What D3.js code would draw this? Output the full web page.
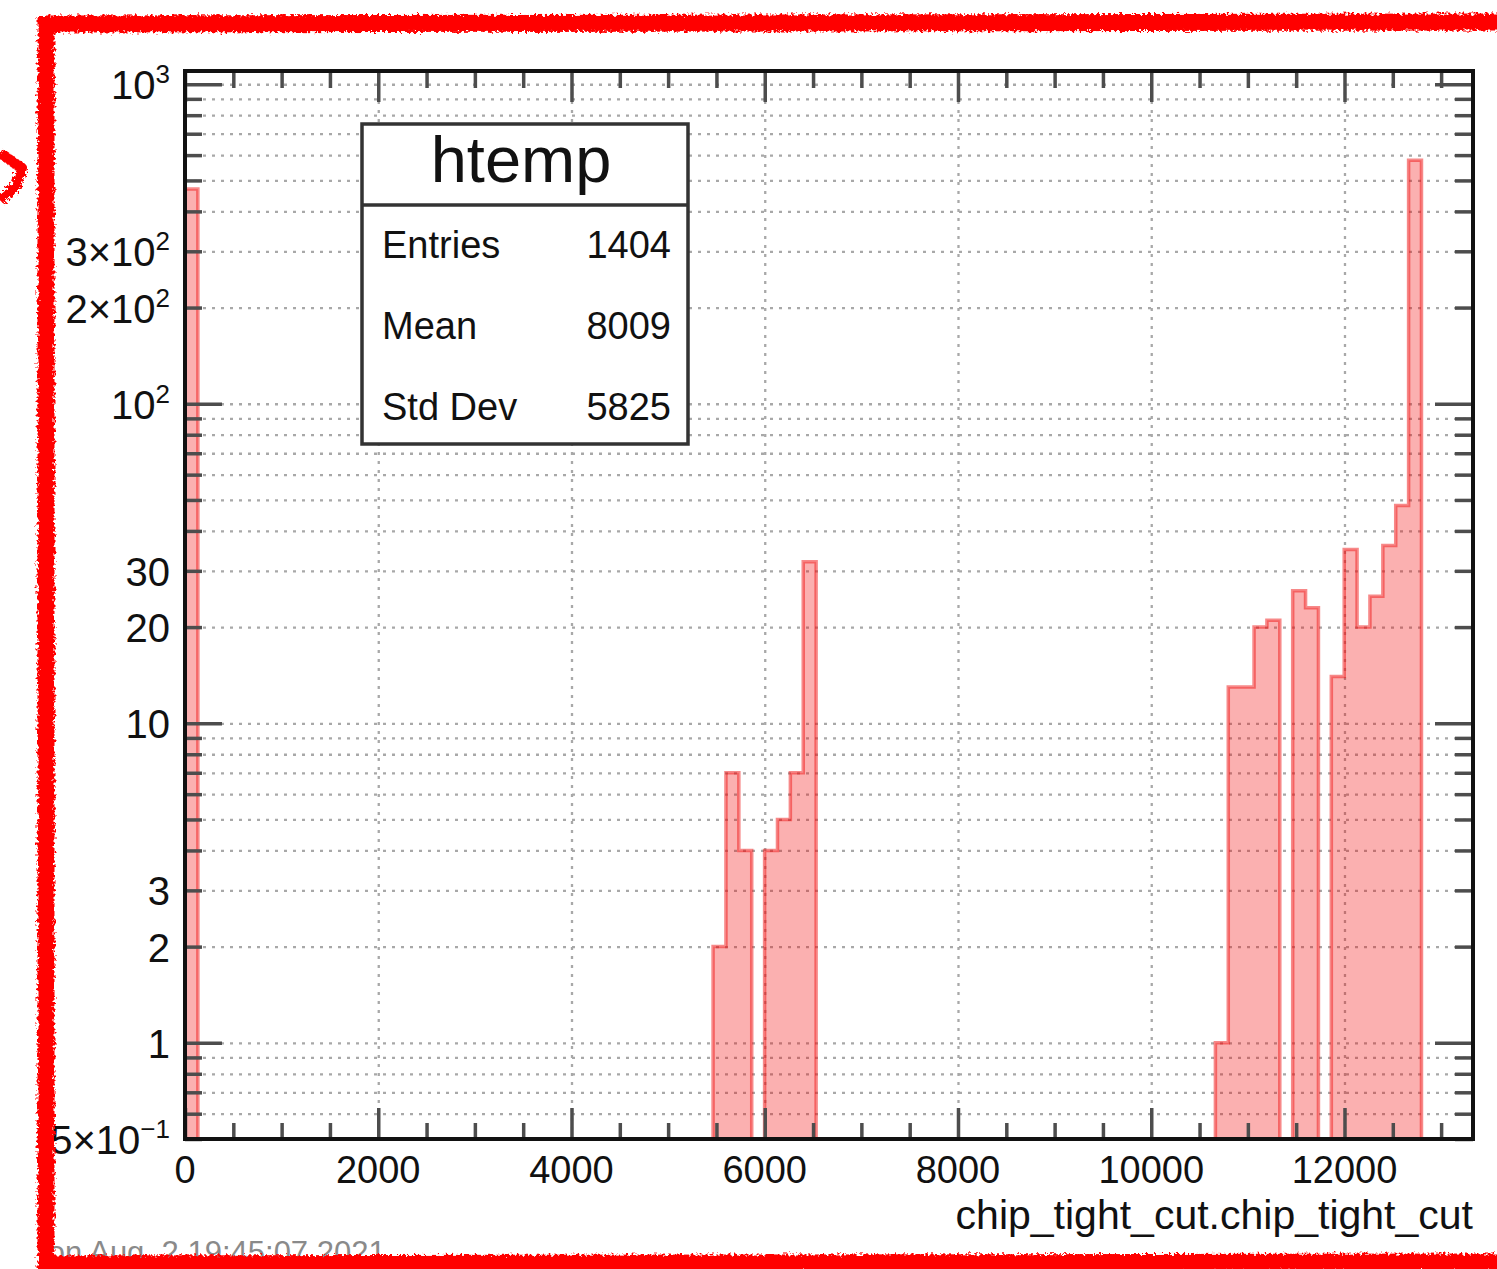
<!DOCTYPE html>
<html>
<head>
<meta charset="utf-8">
<title>htemp</title>
<script src="https://d3js.org/d3.v7.min.js"></script>
<style>
  body { margin: 0; background: #fff; }
  svg { display: block; font-family: "Liberation Sans", Arial, Helvetica, sans-serif; }
  .grid line { stroke: #a8a8a8; stroke-width: 2.3; stroke-dasharray: 3 6; }
  .grid path, .ticks path { display: none; }
  .ticks line { stroke: #4d4d4d; stroke-width: 3.5; }
</style>
</head>
<body>
<svg id="chart" width="1497" height="1269"></svg>
<script>
// histogram htemp, 100 bins between 0 and 13330
const nBins = 100;
const xLow = 0;
const xHigh = 13330;
const filledBins = [0, 41, 42, 43, 45, 46, 47, 48, 80, 81, 82, 83, 84, 86, 87, 89, 90, 91, 92, 93, 94, 95];
const binContents = [470, 2, 7, 4, 4, 5, 7, 32, 1, 13, 13, 20, 21, 26, 23, 14, 35, 20, 25, 36, 48, 578];
const xMajorTicks = [0, 2000, 4000, 6000, 8000, 10000, 12000];
const yLabelValues = [1000, 300, 200, 100, 30, 20, 10, 3, 2, 1, 0.5];
const yLabelBase = ["10", "3\u00d710", "2\u00d710", "10", "30", "20", "10", "3", "2", "1", "5\u00d710"];
const yLabelSup = ["3", "2", "2", "2", "", "", "", "", "", "", "\u22121"];
const statNames = ["Entries", "Mean", "Std Dev"];
const statValues = ["1404", "8009", "5825"];
const histName = "htemp";
const xTitle = "chip_tight_cut.chip_tight_cut";
const dateStamp = "Mon Aug  2 19:45:07 2021";

const svg = d3.select("#chart");
const margin = { left: 185, right: 1473, top: 71, bottom: 1139 };

const x = d3.scaleLinear().domain([xLow, xHigh]).range([margin.left, margin.right]);
const y = d3.scaleLog().domain([0.5, 1100]).range([margin.bottom, margin.top]);

// ticks
const yAll = y.ticks();
const yMajor = yAll.filter(function(v) { return Math.abs(Math.log10(v) - Math.round(Math.log10(v))) < 1e-9; });
const yMinor = yAll.filter(function(v) { return yMajor.indexOf(v) < 0; });
const xMinor = d3.range(500, xHigh, 500).filter(function(v) { return v % 2000 !== 0; });

// clip
svg.append("clipPath").attr("id", "frameClip")
  .append("rect")
    .attr("x", margin.left).attr("y", margin.top)
    .attr("width", margin.right - margin.left).attr("height", margin.bottom - margin.top);

// grid
svg.append("g").attr("class", "grid")
  .attr("transform", "translate(" + margin.left + ",0)")
  .call(d3.axisLeft(y).tickValues(yAll).tickSize(margin.left - margin.right).tickFormat(""));
svg.append("g").attr("class", "grid")
  .attr("transform", "translate(0," + margin.bottom + ")")
  .call(d3.axisBottom(x).tickValues(xMajorTicks.slice(1)).tickSize(margin.top - margin.bottom).tickFormat(""));

// histogram contents
const contents = new Array(nBins).fill(0);
filledBins.forEach(function(b, i) { contents[b] = binContents[i]; });
const binW = (xHigh - xLow) / nBins;
let d = "M" + x(xLow) + "," + margin.bottom;
contents.forEach(function(c, i) {
  const yy = c > 0 ? y(c) : margin.bottom;
  d += "L" + x(xLow + i * binW) + "," + yy + "L" + x(xLow + (i + 1) * binW) + "," + yy;
});
d += "L" + x(xHigh) + "," + margin.bottom;

const hist = svg.append("g").attr("clip-path", "url(#frameClip)");
hist.append("path")
  .attr("d", d + "Z")
  .attr("fill", "rgba(242,0,0,0.31)")
  .attr("stroke", "none");
hist.append("path")
  .attr("d", d)
  .attr("fill", "none")
  .attr("stroke", "rgba(240,20,20,0.5)")
  .attr("stroke-width", 3.5);

// ticks, all four sides
function tickGroup(axis, tx, ty) {
  svg.append("g").attr("class", "ticks")
    .attr("transform", "translate(" + tx + "," + ty + ")")
    .call(axis);
}
tickGroup(d3.axisLeft(y).tickValues(yMinor).tickSize(-17).tickFormat(""), margin.left, 0);
tickGroup(d3.axisLeft(y).tickValues(yMajor).tickSize(-37).tickFormat(""), margin.left, 0);
tickGroup(d3.axisRight(y).tickValues(yMinor).tickSize(-18).tickFormat(""), margin.right, 0);
tickGroup(d3.axisRight(y).tickValues(yMajor).tickSize(-38).tickFormat(""), margin.right, 0);
tickGroup(d3.axisBottom(x).tickValues(xMinor).tickSize(-16).tickFormat(""), 0, margin.bottom);
tickGroup(d3.axisBottom(x).tickValues(xMajorTicks).tickSize(-31).tickFormat(""), 0, margin.bottom);
tickGroup(d3.axisTop(x).tickValues(xMinor).tickSize(-17).tickFormat(""), 0, margin.top);
tickGroup(d3.axisTop(x).tickValues(xMajorTicks).tickSize(-31).tickFormat(""), 0, margin.top);

// frame
svg.append("rect")
  .attr("x", margin.left).attr("y", margin.top)
  .attr("width", margin.right - margin.left).attr("height", margin.bottom - margin.top)
  .attr("fill", "none").attr("stroke", "#111").attr("stroke-width", 4);

// x labels
svg.append("g").selectAll("text")
  .data(xMajorTicks)
  .enter().append("text")
    .attr("x", function(v) { return x(v); })
    .attr("y", 1183)
    .attr("text-anchor", "middle")
    .attr("font-size", 38)
    .attr("fill", "#111")
    .text(function(v) { return v; });

// y labels with exponents
const yLab = svg.append("g").selectAll("text")
  .data(yLabelValues)
  .enter().append("text")
    .attr("x", 170)
    .attr("y", function(v) { return y(v) + 15; })
    .attr("text-anchor", "end")
    .attr("font-size", 40)
    .attr("fill", "#111");
yLab.append("tspan").text(function(v, i) { return yLabelBase[i]; });
yLab.append("tspan")
  .attr("dy", -16)
  .attr("font-size", 26)
  .text(function(v, i) { return yLabelSup[i]; });

// axis title
svg.append("text")
  .attr("x", margin.right).attr("y", 1229)
  .attr("text-anchor", "end")
  .attr("font-size", 41)
  .attr("fill", "#111")
  .text(xTitle);

// stats box
const box = { x: 362, y: 124, w: 326, h: 320, split: 205 };
svg.append("rect")
  .attr("x", box.x).attr("y", box.y).attr("width", box.w).attr("height", box.h)
  .attr("fill", "#fff").attr("stroke", "#333").attr("stroke-width", 3.5);
svg.append("line")
  .attr("x1", box.x).attr("x2", box.x + box.w)
  .attr("y1", box.split).attr("y2", box.split)
  .attr("stroke", "#333").attr("stroke-width", 3.5);
svg.append("text")
  .attr("x", 521).attr("y", 182)
  .attr("text-anchor", "middle")
  .attr("font-size", 65)
  .attr("fill", "#111")
  .text(histName);
const rowY = [258, 339, 420];
svg.append("g").selectAll("text")
  .data(statNames)
  .enter().append("text")
    .attr("x", 382).attr("y", function(s, i) { return rowY[i]; })
    .attr("font-size", 38).attr("fill", "#111")
    .text(function(s) { return s; });
svg.append("g").selectAll("text")
  .data(statValues)
  .enter().append("text")
    .attr("x", 671).attr("y", function(s, i) { return rowY[i]; })
    .attr("text-anchor", "end")
    .attr("font-size", 38).attr("fill", "#111")
    .text(function(s) { return s; });

// date stamp, partly hidden by the marker frame
svg.append("clipPath").attr("id", "innerClip")
  .append("rect").attr("x", 48).attr("y", 0).attr("width", 1497).attr("height", 1269);
svg.append("text")
  .attr("clip-path", "url(#innerClip)")
  .attr("x", 22).attr("y", 1263)
  .attr("font-size", 31)
  .attr("fill", "#8a8a8a")
  .style("white-space", "pre")
  .text(dateStamp);

// hand-drawn red marker frame
const defs = svg.append("defs");
const rough = defs.append("filter").attr("id", "rough")
  .attr("x", "-5%").attr("y", "-5%").attr("width", "110%").attr("height", "110%");
rough.append("feTurbulence").attr("type", "fractalNoise").attr("baseFrequency", 0.35).attr("numOctaves", 2).attr("seed", 3).attr("result", "noise");
rough.append("feDisplacementMap").attr("in", "SourceGraphic").attr("in2", "noise").attr("scale", 8);
const marker = svg.append("g").attr("filter", "url(#rough)");
marker.append("path")
  .attr("d", "M46,24 L1520,22 M46,16 L46,1269 M40,1264 L1520,1262")
  .attr("fill", "none").attr("stroke", "#f00").attr("stroke-width", 17);
marker.append("path")
  .attr("d", "M0,153 L22,168 L16,186 L0,200")
  .attr("fill", "none").attr("stroke", "#f00").attr("stroke-width", 10)
  .attr("stroke-linejoin", "round");
</script>
</body>
</html>
